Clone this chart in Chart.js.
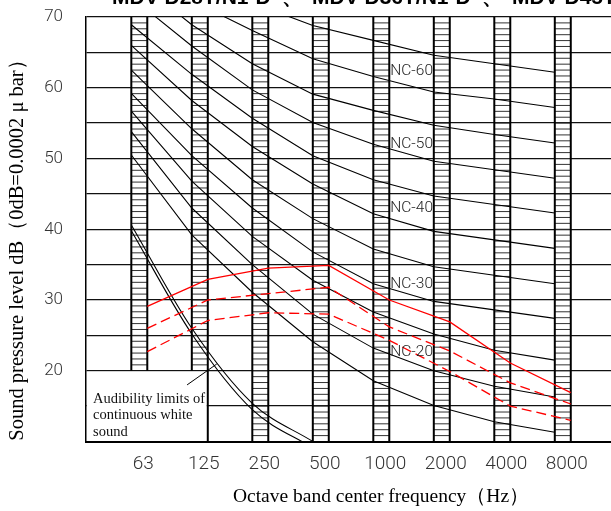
<!DOCTYPE html>
<html>
<head>
<meta charset="utf-8">
<script src="https://cdn.jsdelivr.net/npm/chart.js@4.4.1/dist/chart.umd.min.js"></script>
<style>
  html, body { margin: 0; padding: 0; background: #fff; overflow: hidden; }
  #wrap { width: 611px; height: 511px; }
</style>
</head>
<body>
<div id="wrap"><canvas id="ncChart" width="611" height="511"></canvas></div>
<script>
// Octave band centre frequencies (Hz)
const freqs = ["63", "125", "250", "500", "1000", "2000", "4000", "8000"];

// NC curves, level (dB) where each curve meets the left edge of a band
const nc15 = [50.5, 39.2, 31.1, 24.1, 18.6, 15.1, 12.8, 11.3];
const nc20 = [53.8, 43.0, 35.0, 28.0, 23.2, 20.0, 17.8, 16.3];
const nc25 = [56.7, 46.8, 39.0, 32.8, 28.3, 25.2, 22.9, 21.5];
const nc30 = [59.2, 50.4, 43.0, 36.8, 32.3, 29.8, 28.6, 27.4];
const nc35 = [62.5, 54.2, 47.0, 41.5, 37.2, 34.7, 33.5, 32.3];
const nc40 = [66.0, 58.2, 51.7, 46.4, 42.2, 39.7, 38.5, 37.3];
const nc45 = [68.9, 61.9, 55.7, 50.4, 47.0, 44.7, 43.5, 42.3];
const nc50 = [72.8, 65.9, 59.7, 55.1, 52.0, 49.6, 48.4, 47.2];
const nc55 = [75.8, 68.9, 63.4, 59.1, 56.8, 54.7, 53.4, 52.2];
const nc60 = [78.5, 72.3, 68.1, 64.1, 61.6, 59.4, 58.4, 57.2];
const nc65 = [81.3, 76.3, 72.0, 68.8, 66.7, 64.6, 63.4, 62.2];

// Unit noise levels, read at the right edge of each band
const unitSolid = [29.1, 32.9, 34.5, 34.9, 30.0, 26.9, 21.1, 16.9];
const unitDash1 = [26.0, 30.0, 30.9, 31.8, 26.2, 22.8, 18.3, 15.3];
const unitDash2 = [22.7, 27.1, 28.2, 28.0, 24.3, 19.9, 15.0, 13.0];

// Audibility limits of continuous white sound (63 - 500 Hz)
const hearUpper = [40.6, 26.0, 15.4, 10.0];
const hearLower = [39.8, 25.2, 14.5, 9.1];

const ncNames = ["NC-60", "NC-50", "NC-40", "NC-30", "NC-20"];
const models = ["MDV-D28T/N1-D", "MDV-D36T/N1-D", "MDV-D45T/N1-D"];

const BAND = 0.132;          // half width of a hatched band, in octaves
const TICK_FONT = "Roboto";
const SERIF = "'Liberation Serif', 'Times New Roman', serif";

const pts = (vals, shift) => vals.map((v, i) => ({ x: i + shift, y: v }));

const ncSets = [nc15, nc20, nc25, nc30, nc35, nc40, nc45, nc50, nc55, nc60, nc65].map(vals => ({
    data: pts(vals, -BAND),
    borderColor: "#000",
    borderWidth: 1.1,
    pointRadius: 0,
    tension: 0
}));

const hearSets = [hearUpper, hearLower].map(vals => ({
    data: pts(vals, -BAND),
    borderColor: "#000",
    borderWidth: 1.1,
    pointRadius: 0,
    cubicInterpolationMode: "monotone"
}));

const unitSets = [
    { data: pts(unitSolid, BAND), borderDash: [] },
    { data: pts(unitDash1, BAND), borderDash: [10, 5] },
    { data: pts(unitDash2, BAND), borderDash: [10, 5] }
].map(d => Object.assign(d, { borderColor: "#ff0000", borderWidth: 1.3, pointRadius: 0, tension: 0 }));

// hatched octave bands + their thick edges
const bandsPlugin = {
    id: "bands",
    beforeDatasetsDraw(chart) {
        const { ctx, chartArea: a, scales: { x, y } } = chart;
        ctx.save();
        freqs.forEach((f, i) => {
            const xl = x.getPixelForValue(i - BAND);
            const xr = x.getPixelForValue(i + BAND);
            const yb = i < 2 ? y.getPixelForValue(20) : a.bottom;
            ctx.strokeStyle = "#333";
            ctx.lineWidth = 1;
            for (let k = 1; ; k++) {
                const yy = y.getPixelForValue(70 - k * 5 / 6);
                if (yy >= yb - 1) break;
                ctx.beginPath();
                ctx.moveTo(xl, yy);
                ctx.lineTo(xr, yy);
                ctx.stroke();
            }
            ctx.strokeStyle = "#000";
            ctx.lineWidth = 2;
            ctx.beginPath();
            ctx.moveTo(xl, a.top); ctx.lineTo(xl, yb);
            ctx.moveTo(xr, a.top); ctx.lineTo(xr, yb);
            ctx.stroke();
        });
        ctx.restore();
    }
};

// note box, NC labels and the titles
const notesPlugin = {
    id: "notes",
    afterDatasetsDraw(chart) {
        const { ctx, chartArea: a, scales: { x, y } } = chart;
        ctx.save();
        const bx = x.getPixelForValue(1 + BAND);
        const by = y.getPixelForValue(20);
        ctx.fillStyle = "#fff";
        ctx.fillRect(a.left + 1, by + 1, bx - a.left - 2, a.bottom - by - 2);
        ctx.strokeStyle = "#000";
        ctx.lineWidth = 2;
        ctx.beginPath();
        ctx.moveTo(bx, by); ctx.lineTo(bx, a.bottom);
        ctx.stroke();

        ctx.lineWidth = 1;
        ctx.beginPath();
        ctx.moveTo(x.getPixelForValue(0.79), y.getPixelForValue(18.0));
        ctx.lineTo(x.getPixelForValue(1.28), y.getPixelForValue(20.95));
        ctx.stroke();

        ctx.fillStyle = "#111";
        ctx.font = "14.5px " + SERIF;
        ctx.textAlign = "left";
        ctx.textBaseline = "alphabetic";
        ["Audibility limits of", "continuous white", "sound"].forEach((t, k) => {
            ctx.fillText(t, a.left + 7, by + 32 + k * 16.5);
        });

        // NC labels just right of the 1000 Hz band
        const ncLevels = [62.4, 52.0, 43.0, 32.2, 22.6];
        ctx.font = "300 15.5px " + TICK_FONT;
        ctx.fillStyle = "#222";
        ctx.textBaseline = "middle";
        ncNames.forEach((n, k) => {
            ctx.fillText(n, x.getPixelForValue(4 + BAND) + 1, y.getPixelForValue(ncLevels[k]));
        });
        ctx.restore();
    },
    afterDraw(chart) {
        const { ctx } = chart;
        ctx.save();
        // model title, cut off by the top of the picture
        ctx.fillStyle = "#000";
        ctx.font = "bold 21px 'Liberation Sans', Arial, sans-serif";
        ctx.textAlign = "left";
        ctx.textBaseline = "alphabetic";
        models.forEach((m, k) => {
            ctx.fillText(m, 112 + k * 200, 4);
            if (k < models.length - 1) ctx.fillText("、", 282 + k * 200, 4);
        });

        ctx.font = "19.5px " + SERIF;
        ctx.textAlign = "center";
        ctx.textBaseline = "middle";
        ctx.fillText("Octave band center frequency（Hz）", 381, 497);

        ctx.font = "20.5px " + SERIF;
        ctx.translate(18, 245);
        ctx.rotate(-Math.PI / 2);
        ctx.fillText("Sound pressure level dB（0dB=0.0002 μ bar）", 0, 0);
        ctx.restore();
    }
};

const whiteBg = {
    id: "whiteBg",
    beforeDraw(chart) {
        const { ctx } = chart;
        ctx.save();
        ctx.fillStyle = "#fff";
        ctx.fillRect(0, 0, chart.width, chart.height);
        ctx.restore();
    }
};

const ctx = document.getElementById("ncChart").getContext("2d");

const ncChart = new Chart(ctx, {
    type: "line",
    data: {
        datasets: [...unitSets, ...hearSets, ...ncSets]
    },
    options: {
        responsive: false,
        animation: false,
        devicePixelRatio: 1,
        layout: { padding: { top: 17, left: 0, right: 0, bottom: 0 } },
        scales: {
            x: {
                type: "linear",
                min: -0.881,
                max: 7.797,
                afterBuildTicks: s => { s.ticks = freqs.map((f, i) => ({ value: i })); },
                afterFit: s => { s.height = 69.5; s.paddingLeft = 0; s.paddingRight = 0; },
                grid: { display: false, drawTicks: false },
                border: { display: true, color: "#000", width: 2 },
                ticks: {
                    autoSkip: false,
                    maxRotation: 0,
                    padding: 11,
                    labelOffset: 4,
                    color: "#333",
                    font: { family: TICK_FONT, size: 19, weight: "300" },
                    callback: v => freqs[v] ?? ""
                }
            },
            y: {
                min: 10,
                max: 70,
                afterFit: s => { s.width = 86; s.paddingTop = 0; s.paddingBottom = 0; },
                grid: { color: "#111", lineWidth: 1.3, drawTicks: false },
                border: { display: true, color: "#000", width: 1.5 },
                ticks: {
                    stepSize: 5,
                    padding: 23,
                    color: "#333",
                    font: { family: TICK_FONT, size: 17, weight: "300" },
                    callback: v => (v % 10 === 0 && v > 10) ? String(v) : ""
                }
            }
        },
        plugins: {
            legend: { display: false },
            tooltip: { enabled: false }
        }
    },
    plugins: [whiteBg, bandsPlugin, notesPlugin]
});
</script>
</body>
</html>
